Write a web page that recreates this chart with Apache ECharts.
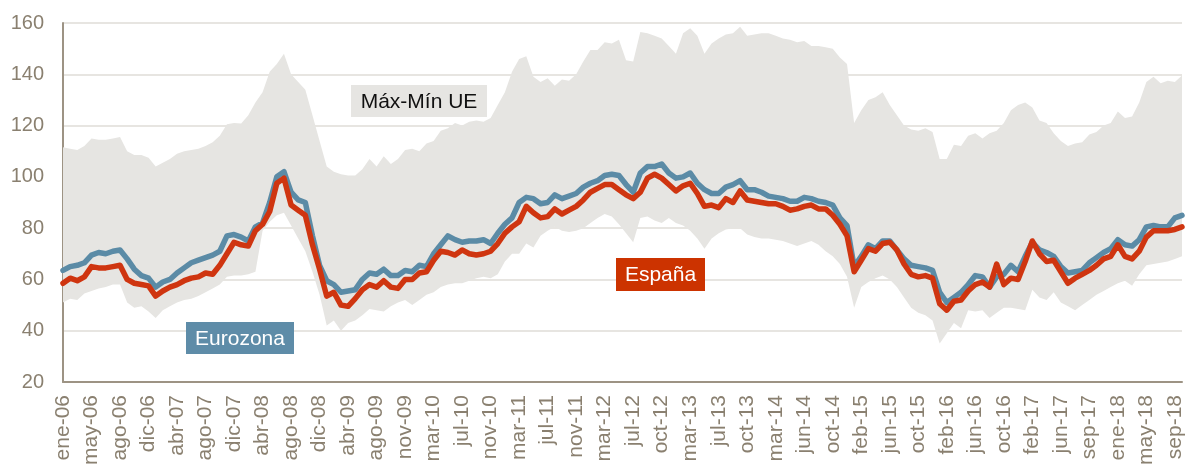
<!DOCTYPE html>
<html>
<head>
<meta charset="utf-8">
<title>Precios semanales: España, Eurozona y rango UE</title>
<script src="https://cdn.jsdelivr.net/npm/echarts@6/dist/echarts.min.js"></script>
<style>
  html, body { margin: 0; padding: 0; background: #ffffff; }
  #chart { width: 1186px; height: 464px; }
</style>
</head>
<body>
<div id="chart"></div>
<script>
// Axis labels, one every 4 samples along the time axis
const tickLabels = [
  'ene-06','may-06','ago-06','dic-06','abr-07','ago-07','dic-07','abr-08','ago-08','dic-08',
  'abr-09','ago-09','nov-09','mar-10','jul-10','nov-10','mar-11','jul-11','nov-11','mar-12',
  'jul-12','oct-12','mar-13','jul-13','oct-13','mar-14','jun-14','oct-14','feb-15','jun-15',
  'oct-15','feb-16','jun-16','oct-16','feb-17','jun-17','sep-17','ene-18','may-18','sep-18'
];

// Upper edge of the EU range
const maxUE = [
  111.5,111,110.5,112,115,114.5,114.5,115,115.5,110,
  108.5,108.5,107.5,104,105.5,107,109,110,110.5,111,
  112,113.5,116,120.5,121,120.8,124,129,133,141,
  144,148,140,137,134,124,114,104,102,101,
  100.5,100.5,103,107,104,108,105,107,110.5,111,
  110,113,114,118,119,121,120,121.5,122,121.5,
  123,128,133,141,146,147,139,137,138.5,135.5,
  138,137.5,140,145,149.5,149.5,152.5,152,153.5,145.5,
  145,156.5,156,155,154,151,148,156,158,155,
  148,152,154,155.5,156,158.5,155,155.5,156,156,
  155,154,153.5,152.5,153,151,151,150.5,150,146.5,
  144,121,126,130,131,133,128,124,120,118.5,
  118,119,117.5,107,107,112.5,112,116,117,115,
  117,118,121,126,128,129,127,122,121,117,
  114,112,113,113.5,116.5,117.5,120,121,125.5,123,
  123.5,129,137,139,136.5,137.5,137,139.5
];

// Lower edge of the EU range
const minUE = [
  51,52.5,52,54.5,55.5,56.5,57,58,58,51,
  49,49.5,47.5,45,48,49.5,51,52,52.5,53.5,
  55,56.5,58,61,61.5,61.5,62,63,79,82.5,
  85,86,81,76,71,63,54,42,44,40,
  43,44,46,48.5,48,47.5,49.5,51,52,50,
  52,54,55,57,58,58.5,58.5,59.5,60.5,61,
  60.5,62,67,70,70,74,72.5,77,79,80.5,
  79,78.5,79,80,82,84,85.5,84.5,81.5,78,
  74.5,84,84.5,83,82,84,82,81,79,76,
  72,76,78,79.5,80,80,77.5,76.5,76,76,
  75.5,75,74,73,74,75,73.5,71,69,66,
  61,49,57,59,60.5,61.5,60,57,53,49,
  47,46,44,35,39,43,41,48,47.5,48,
  45,47,49,49,48.5,48,56,53,52,55,
  51,49.5,48,50,52,54,55.5,57,58.5,59.5,
  57.5,62,65.5,66,66.5,67,68,69
];

// Eurozone average
const eurozona = [
  63.5,65,65.5,66.5,69.5,70.5,70,71,71.5,68,
  64,61.5,60.5,57,59,60,62.5,64.5,66.5,67.5,
  68.5,69.5,71,77,77.5,76.5,75,80.5,82,90,
  100,102,94,91,90,77,65.5,59.5,58,55,
  55.5,56,60,62.5,62,64,61.5,61.5,63.5,63,
  65.5,65,70,73.5,77,75.5,74.5,75,75,75.5,
  74,78,81.5,84,90,92,91.5,89.5,90,93,
  91.5,92.5,93.5,96,97.5,98.5,100.5,101,100.5,97,
  94,101.5,104,104,105,101.5,99.5,100,101.5,97.5,
  95,93.5,93.5,96,97,98.5,95,95,94,92.5,
  92,91.5,90.5,90.5,92,91.5,90.5,90,89,84,
  81,65,69,73.5,72,75,75,71.5,68,65.5,
  65,64.5,63.5,55,51,53,55,58,61.5,61,
  57,61,62,65.5,63,69,74.5,71.5,70.5,69,
  65,62.5,63,63.5,66.5,68.5,70.5,72,75.5,73.5,
  73,75.5,80.5,81,80.5,80.5,84,85
];

// Spain
const espana = [
  58.5,60.5,59.5,61,65,64.5,64.5,65,65.5,60,
  58.5,58,57.5,53.5,55.5,57,58,59.5,60.5,61,
  62.5,62,65.5,70,74.5,73.5,73,79,81.5,86.5,
  97.5,99.5,89,87,85,73.5,64,53.5,55,50,
  49.5,52.5,56,58,57,59.5,57,56.5,60,60,
  62.5,63,67.5,71,70.5,69.5,71.5,70,69.5,70,
  71,74,78,80.5,82.5,88.5,86,84,84.5,87.5,
  85.5,87,88.5,91,94,95.5,97,97,95,93,
  91.5,94,99.5,101,99.5,97,94.5,96.5,97.5,93.5,
  88.5,89,88,91.5,90,94.5,91,90.5,90,89.5,
  89.5,88.5,87,87.5,88.5,89,87.5,87.5,85,81.5,
  77,63,67.5,72,71,74,74.5,71.5,66,62,
  61,61.5,60.5,50.5,48,51.5,52,55.5,58,59,
  57,66,58,60.5,60,67,75,70,67,67.5,
  63,58.5,60.5,62,63.5,65.5,68,69,73.5,69,
  68,71,76.5,79,79,79,79.5,80.5
];

const axisGrey = '#9d9384';
const labelGrey = '#8a8070';
const bandGrey = '#e6e5e2';
const blue = '#5b8ba6';
const red = '#cf3510';
const fontFamily = '"Liberation Sans", Arial, Helvetica, sans-serif';

// One category per sample; every 4th one carries a month label
const samples = maxUE.map((_, i) => String(i));
const bandHeight = maxUE.map((v, i) => +(v - minUE[i]).toFixed(2));

const chart = echarts.init(document.getElementById('chart'), null, { renderer: 'canvas' });

function tag(cx, cy, w, h, text, bg, fg) {
  return {
    type: 'group',
    silent: true,
    children: [
      { type: 'rect', z: 100, shape: { x: cx - w / 2, y: cy - h / 2, width: w, height: h }, style: { fill: bg } },
      { type: 'text', z: 101, x: cx, y: cy + 1,
        style: { text: text, fill: fg, font: '21px ' + fontFamily, textAlign: 'center', textVerticalAlign: 'middle' } }
    ]
  };
}

chart.setOption({
  animation: false,
  backgroundColor: '#ffffff',
  grid: { left: 63, right: 4, top: 23, bottom: 82, containLabel: false, outerBoundsMode: 'none' },
  xAxis: {
    type: 'category',
    data: samples,
    boundaryGap: false,
    axisLine: { show: true, onZero: false, lineStyle: { color: axisGrey, width: 2 } },
    axisTick: { show: false },
    splitLine: { show: false },
    axisLabel: {
      interval: 3,
      rotate: 90,
      margin: 13,
      color: labelGrey,
      fontSize: 21,
      fontFamily: fontFamily,
      formatter: (val, idx) => tickLabels[idx / 4] || ''
    }
  },
  yAxis: {
    type: 'value',
    min: 20,
    max: 160,
    interval: 20,
    axisLine: { show: true, lineStyle: { color: axisGrey, width: 2 } },
    axisTick: { show: false },
    splitLine: { show: true, lineStyle: { color: '#e7e5e1', width: 2 } },
    axisLabel: { color: labelGrey, fontSize: 20, fontFamily: fontFamily, margin: 19 }
  },
  series: [
    {
      name: 'Mín UE',
      type: 'line',
      stack: 'rango',
      data: minUE,
      showSymbol: false,
      lineStyle: { width: 0, opacity: 0 },
      silent: true
    },
    {
      name: 'Máx-Mín UE',
      type: 'line',
      stack: 'rango',
      data: bandHeight,
      showSymbol: false,
      lineStyle: { width: 0, opacity: 0 },
      areaStyle: { color: bandGrey, opacity: 1 },
      silent: true
    },
    {
      name: 'Eurozona',
      type: 'line',
      data: eurozona,
      showSymbol: false,
      lineStyle: { color: blue, width: 5.5, join: 'round', cap: 'round' },
      z: 3
    },
    {
      name: 'España',
      type: 'line',
      data: espana,
      showSymbol: false,
      lineStyle: { color: red, width: 5.5, join: 'round', cap: 'round' },
      z: 4
    }
  ],
  graphic: [
    tag(419, 101, 136, 32, 'Máx-Mín UE', bandGrey, '#111111'),
    tag(240, 338, 108, 32, 'Eurozona', '#5e8ca8', '#ffffff'),
    tag(660.5, 274.5, 89, 33, 'España', '#cc3300', '#ffffff')
  ]
});
</script>
</body>
</html>
